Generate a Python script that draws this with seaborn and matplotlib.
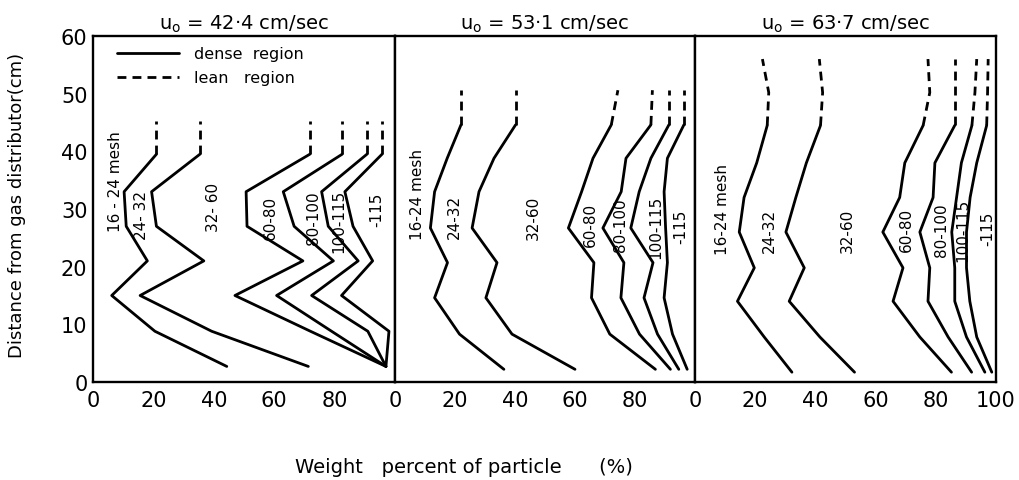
import matplotlib
matplotlib.use("Agg")
import matplotlib.pyplot as plt
import numpy as np
import pandas as pd
import seaborn as sns
from matplotlib.lines import Line2D

sns.set_theme(style="white")
plt.rcParams['font.family'] = ['DejaVu Sans']
plt.rcParams['text.color'] = 'black'

# Superficial gas velocities (cm/sec) of the three runs
velocities = ["42·4", "53·1", "63·7"]

# Mesh fractions; each curve is the cumulative weight percent up to that fraction
fractions = ["16-24", "24-32", "32-60", "60-80", "80-100", "100-115"]

# Sampling heights above the gas distributor (cm)
heights_42 = [2.7, 8.8, 15.0, 21.0, 27.0, 33.0, 39.5, 45.2]
heights_53 = [2.2, 8.3, 14.6, 20.7, 26.7, 33.0, 38.8, 44.6, 50.6]
heights_63 = [1.7, 7.8, 14.0, 19.8, 26.0, 32.0, 38.0, 44.5, 50.2, 56.0]

# Index of the first height that belongs to the lean region
lean_start = [6, 7, 7]

# Cumulative weight percent, u0 = 42.4 cm/sec
cum_42_16_24 = [44.3, 20.5, 6.2, 18.0, 11.0, 10.3, 21.0, 21.0]
cum_42_24_32 = [71.3, 39.3, 15.6, 36.7, 21.0, 19.4, 35.4, 35.4]
cum_42_32_60 = [97.0, 72.0, 47.0, 69.5, 51.0, 50.7, 71.8, 71.8]
cum_42_60_80 = [97.0, 79.0, 60.8, 79.6, 66.6, 63.0, 82.5, 82.5]
cum_42_80_100 = [97.0, 91.0, 72.4, 87.8, 77.9, 75.7, 90.7, 90.7]
cum_42_100_115 = [97.0, 98.0, 82.3, 92.6, 86.1, 83.4, 95.7, 95.7]

# Cumulative weight percent, u0 = 53.1 cm/sec
cum_53_16_24 = [36.3, 21.5, 13.2, 17.5, 11.8, 13.2, 17.4, 22.0, 22.0]
cum_53_24_32 = [60.0, 39.0, 30.3, 34.0, 25.7, 28.0, 33.0, 40.2, 40.2]
cum_53_32_60 = [86.8, 71.6, 65.5, 66.3, 57.8, 62.2, 66.0, 72.1, 74.3]
cum_53_60_80 = [91.8, 81.5, 75.3, 76.3, 69.3, 75.4, 77.0, 85.3, 85.8]
cum_53_80_100 = [94.6, 87.5, 83.0, 86.0, 78.6, 81.4, 85.3, 91.3, 91.3]
cum_53_100_115 = [97.4, 92.5, 89.7, 90.8, 90.2, 89.7, 90.8, 96.3, 96.3]

# Cumulative weight percent, u0 = 63.7 cm/sec
cum_63_16_24 = [32.2, 23.0, 14.1, 19.7, 14.7, 16.3, 20.5, 24.0, 24.5, 22.4]
cum_63_24_32 = [53.0, 41.5, 31.3, 36.3, 30.2, 33.5, 37.0, 41.7, 42.4, 41.3]
cum_63_32_60 = [85.2, 74.7, 65.8, 69.1, 62.4, 68.0, 69.7, 75.8, 78.0, 77.4]
cum_63_60_80 = [91.9, 84.1, 77.4, 78.0, 74.7, 79.1, 79.7, 86.3, 86.3, 86.3]
cum_63_80_100 = [96.3, 90.2, 86.3, 86.3, 85.3, 86.9, 88.5, 92.0, 93.0, 93.6]
cum_63_100_115 = [98.6, 93.6, 91.3, 90.2, 90.2, 91.4, 93.6, 96.9, 97.2, 97.4]

runs = [
    (heights_42, [cum_42_16_24, cum_42_24_32, cum_42_32_60, cum_42_60_80, cum_42_80_100, cum_42_100_115]),
    (heights_53, [cum_53_16_24, cum_53_24_32, cum_53_32_60, cum_53_60_80, cum_53_80_100, cum_53_100_115]),
    (heights_63, [cum_63_16_24, cum_63_24_32, cum_63_32_60, cum_63_60_80, cum_63_80_100, cum_63_100_115]),
]

# Band labels (text, weight percent, height) for each run
band_labels = [
    [("16 - 24 mesh", 7.3, 35.0), ("24- 32", 16.0, 29.0), ("32- 60", 40.0, 30.5),
     ("60-80", 58.6, 28.6), ("80-100", 73.0, 28.6), ("100-115", 81.5, 28.0), ("-115", 94.0, 30.0)],
    [("16-24 mesh", 7.6, 32.7), ("24-32", 19.8, 28.8), ("32-60", 46.2, 28.7),
     ("60-80", 65.0, 27.4), ("80-100", 75.0, 27.4), ("100-115", 86.8, 27.0), ("-115", 95.4, 27.0)],
    [("16-24 mesh", 9.1, 30.0), ("24-32", 24.7, 26.3), ("32-60", 50.7, 26.3),
     ("60-80", 70.2, 26.5), ("80-100", 81.9, 26.5), ("100-115", 89.0, 26.5), ("-115", 97.3, 26.8)],
]

# Long-form table of every measured point
rows = []
for run, (hts, curves) in enumerate(runs):
    for frac, vals in zip(fractions, curves):
        for i, (h, v) in enumerate(zip(hts, vals)):
            rows.append(dict(run=run, fraction=frac, idx=i, height=h, pct=v))
df = pd.DataFrame(rows)

fig = plt.figure(figsize=(10.2, 4.81), dpi=100)
W, H = 1020.0, 481.0
left_px = [93, 395, 695]
right_px = [395, 695, 996]
top_px, bottom_px = 37, 383

dash = (0, (3.2, 2.2))
lw = 2.0

axes = []
for k in range(3):
    ax = fig.add_axes([left_px[k] / W, 1 - bottom_px / H,
                       (right_px[k] - left_px[k]) / W, (bottom_px - top_px) / H])
    axes.append(ax)
    sub = df[df.run == k]
    for frac in fractions:
        cur = sub[sub.fraction == frac].sort_values("idx")
        dense = cur[cur.idx <= lean_start[k]]
        lean = cur[cur.idx >= lean_start[k]]
        sns.lineplot(data=dense, x="pct", y="height", sort=False, estimator=None,
                     color="black", lw=lw, ax=ax)
        sns.lineplot(data=lean, x="pct", y="height", sort=False, estimator=None,
                     color="black", lw=lw, linestyle=dash, ax=ax)
    for text, xv, yv in band_labels[k]:
        ax.text(xv, yv, text, rotation=90, ha="center", va="center",
                fontsize=11, color="black")

    ax.set_xlim(0, 100)
    ax.set_ylim(0, 60)
    ax.set_xlabel("")
    ax.set_ylabel("")
    if k < 2:
        ax.set_xticks([0, 20, 40, 60, 80])
    else:
        ax.set_xticks([0, 20, 40, 60, 80, 100])
    ax.set_yticks([0, 10, 20, 30, 40, 50, 60])
    ax.tick_params(axis="both", direction="in", width=1.6,
                   color="black", labelsize=15, labelcolor="black")
    ax.tick_params(axis="x", pad=6, length=8)
    ax.tick_params(axis="y", pad=4, length=6)
    if k > 0:
        ax.tick_params(axis="y", labelleft=False)
    for s in ax.spines.values():
        s.set_color("black")
        s.set_linewidth(1.7)
    ax.set_title(f"u$_{{\\mathrm{{o}}}}$ = {velocities[k]} cm/sec", fontsize=14,
                 pad=5, color="black")

handles = [Line2D([], [], color="black", lw=lw),
           Line2D([], [], color="black", lw=lw, linestyle=dash)]
leg = axes[0].legend(handles, ["dense  region", "lean   region"], loc="upper left",
                     bbox_to_anchor=(0.08, 0.97), frameon=False, fontsize=11.5,
                     handlelength=3.9, handletextpad=0.9, labelspacing=0.55,
                     borderpad=0, borderaxespad=0)
for t in leg.get_texts():
    t.set_color("black")

fig.text(17 / W, 1 - 205 / H, "Distance from gas distributor(cm)", rotation=90,
         ha="center", va="center", fontsize=13, color="black")
fig.text(464 / W, 1 - 468 / H, "Weight   percent of particle      (%)",
         ha="center", va="center", fontsize=14, color="black")

fig.savefig("out.png", dpi=100)
